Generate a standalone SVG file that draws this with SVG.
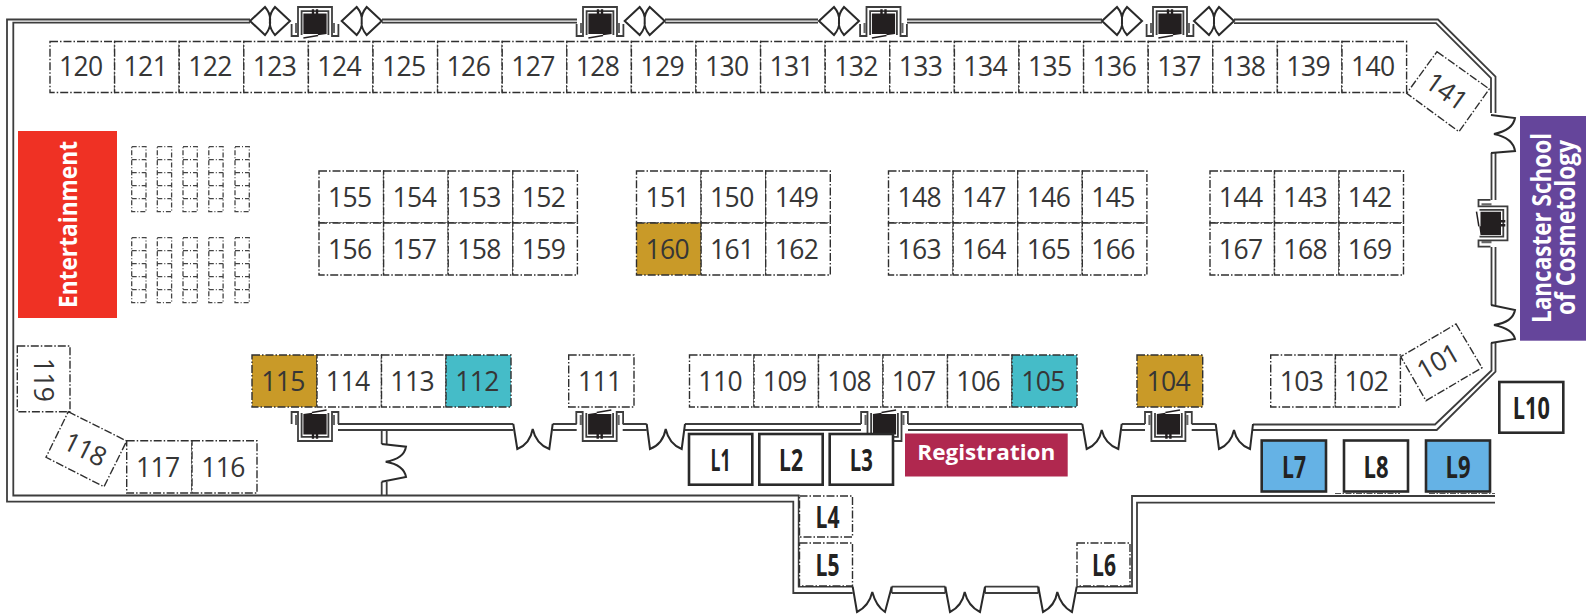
<svg xmlns="http://www.w3.org/2000/svg" width="1594" height="615" viewBox="0 0 1594 615">
<style>
text{font-family:"Open Sans","Noto Sans",sans-serif}
.w{fill:none;stroke:#3d3d3d;stroke-width:1.8}
.d{fill:none;stroke:#2a2a2a;stroke-width:2}
.b{fill:#fff;stroke:#2f2f2f;stroke-width:1.4;stroke-dasharray:8 2 1.5 2}
.g{fill:#c99a28}
.t{fill:#45bcc8}
.n{font-size:26.5px;fill:#363636;text-anchor:middle;letter-spacing:-.6px}
rect+text.n{transform:translateX(-1.5px)}
.c{fill:none;stroke:#444;stroke-width:1.3;stroke-dasharray:5 2 1 2}
.s{fill:#fff;stroke:#2a2a2a;stroke-width:2.6}
.l{fill:#65b2e5}
.m{font-size:31px;font-weight:700;fill:#222;text-anchor:middle}
.h{font-weight:700;fill:#fff;text-anchor:middle}
</style>
<defs>
<g id="elev">
<path class="w" d="M-23.4 -3V-15H-17V14H17V-15H23.4V-3"/>
<path class="w" d="M-13.4 -14V9.8H13.4V-14"/>
<path d="M-20 -12h2.2v10h-2.2zM17.8 -12h2.2v10h-2.2z" fill="#666"/>
<path d="M-11.6 -13L-3 -14.2V-13H11.6V7.5H3.2V11.8H.8V7.5H-.8V11.8H-3.2V7.5H-11.6Z" fill="#231f20"/>
<path d="M-3 -14.6L11.6 -17" stroke="#231f20" stroke-width="1.5" fill="none"/>
</g>
<path id="door" class="d" d="M-20 0L-5 -14Q1 -7 0 0Q1 7 -5 14ZM20 0L5 -14Q-1 -7 0 0Q-1 7 5 14Z" fill="#fff"/>
</defs>
<g id="connectors">
<path class="w" d="M250 19.5H7V501.7H793.3V593H852.7M250 22.7H13.3V495.5H798.7V586.7H852.7"/>
<path class="w" d="M382 19.5H577M382 22.7H577M665 19.5H818M665 22.7H818M907 19.5H1102M907 22.7H1102"/>
<path class="w" d="M1234 19.5H1438L1495.5 76.7V113M1234 23.2H1436L1491 78V113"/>
<path class="w" d="M1491.5 153V200M1495.5 153V200M1491.5 247V305M1495.5 247V305"/>
<path class="w" d="M1495.5 343V371.7L1436.7 430H1253M1491.5 343V370.5L1435 424.5H1253"/>
<path class="w" d="M338 424H513.3M338 430H513.3M552.7 424H576.7M552.7 430H576.7M622.7 424H646.7M622.7 430H646.7M685 424H861M685 430H861M908 424H1082.3M908 430H1082.3M1121.7 424H1145M1121.7 430H1145M1191.7 424H1215.7M1191.7 430H1215.7"/>
<path class="w" d="M381.7 430V444M386.7 430V444M381.7 481.7V495.5M386.7 481.7V495.5"/>
<path class="w" d="M891.7 586.7H945.3M891.7 593H945.3M891.7 586.7V593M945.3 586.7V593M985 586.7H1038.3M985 593H1038.3M985 586.7V593M1038.3 586.7V593"/>
<path class="w" d="M1076.7 593H1137V502.7H1495M1076.7 586.7H1132V496H1495"/>
<path d="M1335 493.5H1400M1429 493.5H1495" fill="none" stroke="#555" stroke-width="1" stroke-dasharray="6 1.5 1.5 1.5"/>
<path class="d" d="M513.3 424L517.3 449Q530 444 532.7 429Q536 444 549.3 449L552.7 424"/>
<path class="d" d="M646.7 424L650 449Q663 444 665.7 429Q669 444 681.7 449L685 424"/>
<path class="d" d="M1082.3 424L1086.7 449Q1099 444 1101.7 430Q1105 444 1118.3 449L1121.7 424"/>
<path class="d" d="M1215.7 424L1219 449Q1231 444 1234 430Q1237 444 1250 449L1253 424"/>
<path class="d" d="M381.7 444L406 446.7Q404 459 385.7 461.7Q404 465 406 477L381.7 481.7"/>
<path class="d" d="M1491 115L1515 118Q1513 130 1494 134Q1513 138 1515 151L1491 153"/>
<path class="d" d="M1491 305L1515 310Q1513 322 1494 325Q1513 329 1515 339L1491 343"/>
<path class="d" d="M852.7 586.7L857 612Q869 606 872.3 592Q876 606 885 612L891.7 586.7"/>
<path class="d" d="M945.3 586.7L950 612Q962 606 964.7 592Q968 606 980 612L985 586.7"/>
<path class="d" d="M1038.3 586.7L1043 612Q1055 606 1057.3 592Q1061 606 1072 612L1076.7 586.7"/>
<use href="#door" x="270" y="21"/><use href="#door" x="361.7" y="21"/><use href="#door" x="644.7" y="21"/><use href="#door" x="839" y="21"/><use href="#door" x="1122" y="21"/><use href="#door" x="1214" y="21"/>
<use href="#elev" transform="translate(315 21) rotate(180)"/>
<use href="#elev" transform="translate(600 21) rotate(180)"/>
<use href="#elev" transform="translate(883.5 21) rotate(180)"/>
<use href="#elev" transform="translate(1170 21) rotate(180)"/>
<use href="#elev" transform="translate(315 427)"/>
<use href="#elev" transform="translate(599.7 427)"/>
<use href="#elev" transform="translate(884.5 427)"/>
<use href="#elev" transform="translate(1168.4 427)"/>
<use href="#elev" transform="translate(1493.5 223.3) rotate(-90)"/>
</g>
<g id="chairs">
<path class="c" d="M131.7 146.7h14.3v65h-14.3zM131.7 159.7h14.3M131.7 172.7h14.3M131.7 185.7h14.3M131.7 198.7h14.3M157.3 146.7h14.3v65h-14.3zM157.3 159.7h14.3M157.3 172.7h14.3M157.3 185.7h14.3M157.3 198.7h14.3M183 146.7h14.3v65h-14.3zM183 159.7h14.3M183 172.7h14.3M183 185.7h14.3M183 198.7h14.3M208.8 146.7h14.3v65h-14.3zM208.8 159.7h14.3M208.8 172.7h14.3M208.8 185.7h14.3M208.8 198.7h14.3M235 146.7h14.3v65h-14.3zM235 159.7h14.3M235 172.7h14.3M235 185.7h14.3M235 198.7h14.3"/>
<path class="c" d="M131.7 237.7h14.3v65h-14.3zM131.7 250.7h14.3M131.7 263.7h14.3M131.7 276.7h14.3M131.7 289.7h14.3M157.3 237.7h14.3v65h-14.3zM157.3 250.7h14.3M157.3 263.7h14.3M157.3 276.7h14.3M157.3 289.7h14.3M183 237.7h14.3v65h-14.3zM183 250.7h14.3M183 263.7h14.3M183 276.7h14.3M183 289.7h14.3M208.8 237.7h14.3v65h-14.3zM208.8 250.7h14.3M208.8 263.7h14.3M208.8 276.7h14.3M208.8 289.7h14.3M235 237.7h14.3v65h-14.3zM235 250.7h14.3M235 263.7h14.3M235 276.7h14.3M235 289.7h14.3"/>
</g>
<g id="b120"><rect class="b" x="50" y="41.5" width="64.6" height="51"/><text class="n" x="82.3" y="75.5">120</text></g>
<g id="b121"><rect class="b" x="114.6" y="41.5" width="64.6" height="51"/><text class="n" x="146.9" y="75.5">121</text></g>
<g id="b122"><rect class="b" x="179.2" y="41.5" width="64.6" height="51"/><text class="n" x="211.5" y="75.5">122</text></g>
<g id="b123"><rect class="b" x="243.8" y="41.5" width="64.6" height="51"/><text class="n" x="276.1" y="75.5">123</text></g>
<g id="b124"><rect class="b" x="308.4" y="41.5" width="64.6" height="51"/><text class="n" x="340.7" y="75.5">124</text></g>
<g id="b125"><rect class="b" x="373" y="41.5" width="64.6" height="51"/><text class="n" x="405.3" y="75.5">125</text></g>
<g id="b126"><rect class="b" x="437.6" y="41.5" width="64.6" height="51"/><text class="n" x="469.9" y="75.5">126</text></g>
<g id="b127"><rect class="b" x="502.2" y="41.5" width="64.6" height="51"/><text class="n" x="534.5" y="75.5">127</text></g>
<g id="b128"><rect class="b" x="566.8" y="41.5" width="64.6" height="51"/><text class="n" x="599.1" y="75.5">128</text></g>
<g id="b129"><rect class="b" x="631.4" y="41.5" width="64.6" height="51"/><text class="n" x="663.7" y="75.5">129</text></g>
<g id="b130"><rect class="b" x="696" y="41.5" width="64.6" height="51"/><text class="n" x="728.3" y="75.5">130</text></g>
<g id="b131"><rect class="b" x="760.6" y="41.5" width="64.6" height="51"/><text class="n" x="792.9" y="75.5">131</text></g>
<g id="b132"><rect class="b" x="825.2" y="41.5" width="64.6" height="51"/><text class="n" x="857.5" y="75.5">132</text></g>
<g id="b133"><rect class="b" x="889.8" y="41.5" width="64.6" height="51"/><text class="n" x="922.1" y="75.5">133</text></g>
<g id="b134"><rect class="b" x="954.4" y="41.5" width="64.6" height="51"/><text class="n" x="986.7" y="75.5">134</text></g>
<g id="b135"><rect class="b" x="1019" y="41.5" width="64.6" height="51"/><text class="n" x="1051.3" y="75.5">135</text></g>
<g id="b136"><rect class="b" x="1083.6" y="41.5" width="64.6" height="51"/><text class="n" x="1115.9" y="75.5">136</text></g>
<g id="b137"><rect class="b" x="1148.2" y="41.5" width="64.6" height="51"/><text class="n" x="1180.5" y="75.5">137</text></g>
<g id="b138"><rect class="b" x="1212.8" y="41.5" width="64.6" height="51"/><text class="n" x="1245.1" y="75.5">138</text></g>
<g id="b139"><rect class="b" x="1277.4" y="41.5" width="64.6" height="51"/><text class="n" x="1309.7" y="75.5">139</text></g>
<g id="b140"><rect class="b" x="1342" y="41.5" width="64.6" height="51"/><text class="n" x="1374.3" y="75.5">140</text></g>
<g id="b141"><path class="b" d="M1437 51.7L1489.3 89L1459 131.7L1406.7 93.3Z"/><text class="n" transform="translate(1446.5 91) rotate(35.5)" x="0" y="9.5">141</text></g>
<g id="b155"><rect class="b" x="319" y="171" width="64.6" height="52"/><text class="n" x="351.3" y="206.5">155</text></g>
<g id="b154"><rect class="b" x="383.6" y="171" width="64.6" height="52"/><text class="n" x="415.9" y="206.5">154</text></g>
<g id="b153"><rect class="b" x="448.2" y="171" width="64.6" height="52"/><text class="n" x="480.5" y="206.5">153</text></g>
<g id="b152"><rect class="b" x="512.8" y="171" width="64.6" height="52"/><text class="n" x="545.1" y="206.5">152</text></g>
<g id="b156"><rect class="b" x="319" y="223" width="64.6" height="52"/><text class="n" x="351.3" y="258.5">156</text></g>
<g id="b157"><rect class="b" x="383.6" y="223" width="64.6" height="52"/><text class="n" x="415.9" y="258.5">157</text></g>
<g id="b158"><rect class="b" x="448.2" y="223" width="64.6" height="52"/><text class="n" x="480.5" y="258.5">158</text></g>
<g id="b159"><rect class="b" x="512.8" y="223" width="64.6" height="52"/><text class="n" x="545.1" y="258.5">159</text></g>
<g id="b151"><rect class="b" x="636.5" y="171" width="64.6" height="52"/><text class="n" x="668.8" y="206.5">151</text></g>
<g id="b150"><rect class="b" x="701.1" y="171" width="64.6" height="52"/><text class="n" x="733.4" y="206.5">150</text></g>
<g id="b149"><rect class="b" x="765.7" y="171" width="64.6" height="52"/><text class="n" x="798" y="206.5">149</text></g>
<g id="b160"><rect class="b g" x="636.5" y="223" width="64.6" height="52"/><text class="n" x="668.8" y="258.5">160</text></g>
<g id="b161"><rect class="b" x="701.1" y="223" width="64.6" height="52"/><text class="n" x="733.4" y="258.5">161</text></g>
<g id="b162"><rect class="b" x="765.7" y="223" width="64.6" height="52"/><text class="n" x="798" y="258.5">162</text></g>
<g id="b148"><rect class="b" x="888.5" y="171" width="64.6" height="52"/><text class="n" x="920.8" y="206.5">148</text></g>
<g id="b147"><rect class="b" x="953.1" y="171" width="64.6" height="52"/><text class="n" x="985.4" y="206.5">147</text></g>
<g id="b146"><rect class="b" x="1017.7" y="171" width="64.6" height="52"/><text class="n" x="1050" y="206.5">146</text></g>
<g id="b145"><rect class="b" x="1082.3" y="171" width="64.6" height="52"/><text class="n" x="1114.6" y="206.5">145</text></g>
<g id="b163"><rect class="b" x="888.5" y="223" width="64.6" height="52"/><text class="n" x="920.8" y="258.5">163</text></g>
<g id="b164"><rect class="b" x="953.1" y="223" width="64.6" height="52"/><text class="n" x="985.4" y="258.5">164</text></g>
<g id="b165"><rect class="b" x="1017.7" y="223" width="64.6" height="52"/><text class="n" x="1050" y="258.5">165</text></g>
<g id="b166"><rect class="b" x="1082.3" y="223" width="64.6" height="52"/><text class="n" x="1114.6" y="258.5">166</text></g>
<g id="b144"><rect class="b" x="1210" y="171" width="64.5" height="52"/><text class="n" x="1242.2" y="206.5">144</text></g>
<g id="b143"><rect class="b" x="1274.5" y="171" width="64.5" height="52"/><text class="n" x="1306.7" y="206.5">143</text></g>
<g id="b142"><rect class="b" x="1339" y="171" width="64.5" height="52"/><text class="n" x="1371.2" y="206.5">142</text></g>
<g id="b167"><rect class="b" x="1210" y="223" width="64.5" height="52"/><text class="n" x="1242.2" y="258.5">167</text></g>
<g id="b168"><rect class="b" x="1274.5" y="223" width="64.5" height="52"/><text class="n" x="1306.7" y="258.5">168</text></g>
<g id="b169"><rect class="b" x="1339" y="223" width="64.5" height="52"/><text class="n" x="1371.2" y="258.5">169</text></g>
<g id="b115"><rect class="b g" x="252" y="355" width="65" height="52"/><text class="n" x="284.5" y="390.5">115</text></g>
<g id="b114"><rect class="b" x="317" y="355" width="64.5" height="52"/><text class="n" x="349.2" y="390.5">114</text></g>
<g id="b113"><rect class="b" x="381.5" y="355" width="64.5" height="52"/><text class="n" x="413.7" y="390.5">113</text></g>
<g id="b112"><rect class="b t" x="446" y="355" width="65" height="52"/><text class="n" x="478.5" y="390.5">112</text></g>
<g id="b111"><rect class="b" x="568.7" y="355" width="65.3" height="52"/><text class="n" x="601.3" y="390.5">111</text></g>
<g id="b110"><rect class="b" x="689.5" y="355" width="64.5" height="52"/><text class="n" x="721.7" y="390.5">110</text></g>
<g id="b109"><rect class="b" x="754" y="355" width="64.5" height="52"/><text class="n" x="786.2" y="390.5">109</text></g>
<g id="b108"><rect class="b" x="818.5" y="355" width="64.5" height="52"/><text class="n" x="850.7" y="390.5">108</text></g>
<g id="b107"><rect class="b" x="883" y="355" width="64.5" height="52"/><text class="n" x="915.2" y="390.5">107</text></g>
<g id="b106"><rect class="b" x="947.5" y="355" width="64.5" height="52"/><text class="n" x="979.7" y="390.5">106</text></g>
<g id="b105"><rect class="b t" x="1012" y="355" width="65" height="52"/><text class="n" x="1044.5" y="390.5">105</text></g>
<g id="b104"><rect class="b g" x="1137" y="355" width="65.7" height="52"/><text class="n" x="1169.8" y="390.5">104</text></g>
<g id="b103"><rect class="b" x="1270.7" y="355" width="64.7" height="52"/><text class="n" x="1303" y="390.5">103</text></g>
<g id="b102"><rect class="b" x="1335.4" y="355" width="65" height="52"/><text class="n" x="1367.9" y="390.5">102</text></g>
<g id="b101"><path class="b" d="M1456 324L1482 367.7L1426 400.7L1400.7 356.7Z"/><text class="n" transform="translate(1438 361.5) rotate(-30)" x="0" y="9.5">101</text></g>
<g id="b119"><path class="b" d="M17.3 346H70V411.7H17.3Z"/><text class="n" transform="translate(43 379.5) rotate(90)" x="0" y="9.5">119</text></g>
<g id="b118"><path class="b" d="M68.3 411.7L126.7 441L104 486.7L46 457.3Z"/><text class="n" transform="translate(85 449) rotate(26.5)" x="0" y="9.5">118</text></g>
<g id="b117"><rect class="b" x="126.7" y="440.7" width="65.3" height="52.3"/><text class="n" x="159.3" y="476.5">117</text></g>
<g id="b116"><rect class="b" x="192" y="440.7" width="65" height="52.3"/><text class="n" x="224.5" y="476.5">116</text></g>
<g id="entertainment"><rect x="18" y="131" width="99" height="187" fill="#ef3124"/><text class="h" font-size="24.5" transform="translate(76.5 224.5) rotate(-90)" textLength="167" lengthAdjust="spacingAndGlyphs">Entertainment</text></g>
<g id="lancaster"><rect x="1520" y="116" width="66" height="224.7" fill="#65459b"/><text class="h" font-size="26" transform="translate(1550.5 228) rotate(-90)" textLength="190" lengthAdjust="spacingAndGlyphs">Lancaster School</text><text class="h" font-size="26" transform="translate(1575 227.5) rotate(-90)" textLength="175" lengthAdjust="spacingAndGlyphs">of Cosmetology</text></g>
<g id="registration"><rect x="905" y="433.5" width="162.7" height="43" fill="#b0284f"/><text class="h" font-size="22" x="986.3" y="459.5" textLength="138" lengthAdjust="spacingAndGlyphs">Registration</text></g>
<g id="L1"><rect class="s" x="689" y="434" width="63.3" height="50.7"/><text class="m" x="720.6" y="470.5" textLength="20" lengthAdjust="spacingAndGlyphs">L1</text></g>
<g id="L2"><rect class="s" x="759.3" y="434" width="63.4" height="50.7"/><text class="m" x="791" y="470.5" textLength="24" lengthAdjust="spacingAndGlyphs">L2</text></g>
<g id="L3"><rect class="s" x="829.7" y="434" width="63.3" height="50.7"/><text class="m" x="861.3" y="470.5" textLength="23" lengthAdjust="spacingAndGlyphs">L3</text></g>
<g id="L4"><rect class="b" x="799.5" y="496" width="53" height="41"/><text class="m" x="827.5" y="528" textLength="24" lengthAdjust="spacingAndGlyphs">L4</text></g>
<g id="L5"><rect class="b" x="799.5" y="543" width="53" height="43"/><text class="m" x="827.5" y="575.5" textLength="24" lengthAdjust="spacingAndGlyphs">L5</text></g>
<g id="L6"><rect class="b" x="1077" y="543" width="53" height="43"/><text class="m" x="1104" y="575.5" textLength="24" lengthAdjust="spacingAndGlyphs">L6</text></g>
<g id="L7"><rect class="s l" x="1261.7" y="440.5" width="64.3" height="51"/><text class="m" x="1294" y="477.5" textLength="24" lengthAdjust="spacingAndGlyphs">L7</text></g>
<g id="L8"><rect class="s" x="1344" y="440.5" width="64" height="51"/><text class="m" x="1376" y="477.5" textLength="25" lengthAdjust="spacingAndGlyphs">L8</text></g>
<g id="L9"><rect class="s l" x="1426" y="440.5" width="64" height="51"/><text class="m" x="1458" y="477.5" textLength="25" lengthAdjust="spacingAndGlyphs">L9</text></g>
<g id="L10"><rect class="s" x="1499.3" y="382" width="64" height="50.7"/><text class="m" x="1531.3" y="418.5" textLength="37" lengthAdjust="spacingAndGlyphs">L10</text></g>
</svg>
